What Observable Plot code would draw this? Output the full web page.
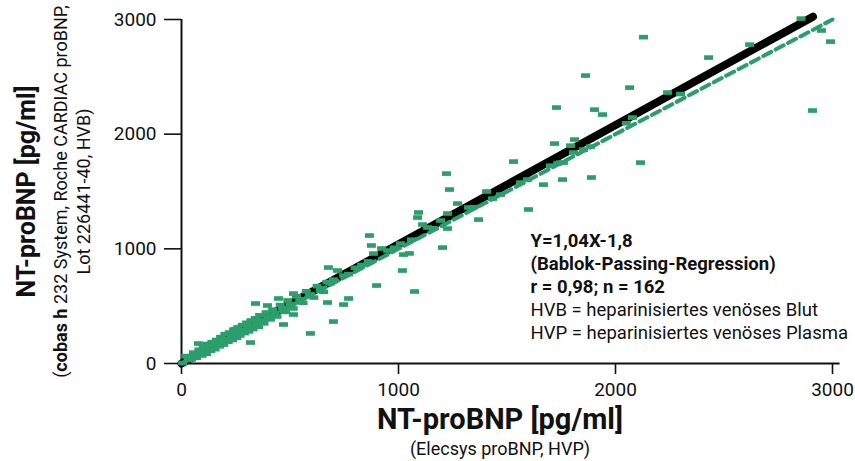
<!DOCTYPE html>
<html>
<head>
<meta charset="utf-8">
<script src="https://cdn.jsdelivr.net/npm/d3@7"></script>
<script src="https://cdn.jsdelivr.net/npm/@observablehq/plot@0.6"></script>
<style>
  html, body { margin: 0; padding: 0; background: #fff; }
  #chart { width: 855px; height: 461px; }
</style>
</head>
<body>
<div id="chart"></div>
<script>
// Elecsys proBNP (HVP) values, x axis
const elecsys = [
  2129, 2855, 2949, 2991, 2908, 2618, 2429, 1862, 2065, 1728,
  1903, 1940, 2240, 2078, 1719, 1811, 1793, 1806, 1747, 2115,
  1889, 1756, 1530, 1668, 1221, 1235, 1406, 1272, 1226, 1369,
  1599, 1226, 1092, 1088, 1111, 866, 875, 922, 1023, 1050,
  1203, 677, 1018, 899, 1074, 770, 673, 747, 341, 396,
  447, 516, 470, 318, 78, 594, 516, 700, 719, 747,
  770, 700, 885, 950, 1009, 1134, 1194, 1323, 1345, 1433,
  1470, 1562, 1594, 1733, 1760, 1853, 1885, 1700, 2050, 2300,
  1160, 1060, 980, 830, 860, 800,
  5, 20, 30, 45, 55, 60, 70, 80, 85, 95,
  100, 110, 115, 120, 130, 135, 140, 150, 155, 160,
  170, 175, 180, 190, 195, 200, 210, 215, 220, 230,
  235, 240, 250, 255, 260, 265, 270, 280, 285, 290,
  300, 305, 310, 320, 325, 330, 340, 350, 355, 360,
  370, 380, 390, 400, 410, 420, 430, 440, 455, 465,
  480, 490, 500, 515, 530, 545, 560, 575, 590, 610,
  625, 640, 655, 670, 685, 250
];
// cobas h 232 values (HVB), y axis
const cobas = [
  2846, 3008, 2904, 2807, 2206, 2781, 2668, 2511, 2406, 2232,
  2214, 2171, 2363, 2145, 1918, 1953, 1900, 1840, 1752, 1752,
  1622, 1604, 1761, 1560, 1656, 1517, 1500, 1395, 1308, 1255,
  1343, 1177, 1317, 1273, 1212, 1116, 1029, 1003, 950, 960,
  1011, 837, 811, 680, 628, 567, 532, 514, 523, 506,
  567, 610, 340, 183, 174, 262, 427, 366, 811, 767,
  780, 732, 959, 985, 1046, 1186, 1247, 1360, 1362, 1438,
  1473, 1578, 1604, 1744, 1752, 1866, 1892, 1725, 2095, 2350,
  1180, 1080, 1010, 860, 890, 835,
  5, 65, 30, 35, 95, 60, 50, 120, 85, 70,
  145, 115, 85, 170, 135, 110, 185, 155, 125, 205,
  175, 150, 230, 195, 165, 255, 215, 190, 270, 235,
  205, 295, 255, 225, 315, 275, 245, 335, 290, 265,
  355, 315, 280, 375, 335, 300, 395, 360, 320, 420,
  380, 350, 445, 410, 385, 470, 440, 410, 510, 480,
  450, 550, 515, 480, 585, 560, 530, 630, 600, 575,
  675, 655, 625, 710, 700, 300
];
// Regression line end points (Y = 1,04X - 1,8) and identity line
const regX = [0, 2910];
const regY = [0, 3025];
const idX = [0, 3000];
const idY = [0, 3000];
const ticks = [0, 1000, 2000, 3000];

const yTitle = "NT-proBNP [pg/ml]";
const yTitle2 = "(cobas h 232 System, Roche CARDIAC proBNP,";
const yTitle3 = "Lot 226441-40, HVB)";
const xTitle = "NT-proBNP [pg/ml]";
const xTitle2 = "(Elecsys proBNP, HVP)";
const noteBold = "Y=1,04X-1,8\n(Bablok-Passing-Regression)\nr = 0,98; n = 162";
const noteReg = "HVB = heparinisiertes venöses Blut\nHVP = heparinisiertes venöses Plasma";

const points = elecsys.map((x, i) => ({x, y: cobas[i]}));
const reg = regX.map((x, i) => ({x, y: regY[i]}));
const ident = idX.map((x, i) => ({x, y: idY[i]}));

const green = "#2b9e6b";
const rectSymbol = {
  draw(ctx) { ctx.rect(-4.5, -2.3, 9, 4.6); }
};

const chart = Plot.plot({
  width: 855,
  height: 461,
  marginLeft: 181,
  marginRight: 23,
  marginTop: 19,
  marginBottom: 98,
  style: {fontFamily: "Roboto, sans-serif", color: "#111", background: "#fff"},
  x: {domain: [0, 3000], ticks: ticks, tickFormat: d => String(d), label: null},
  y: {domain: [0, 3000], ticks: ticks, tickFormat: d => String(d), label: null},
  marks: [
    Plot.axisX({ticks, tickSize: 11, tickPadding: 8, fontSize: 19, strokeWidth: 1.6, label: null, tickFormat: d => String(d)}),
    Plot.axisY({ticks, tickSize: 17, tickPadding: 8, fontSize: 19, strokeWidth: 1.6, label: null, tickFormat: d => String(d)}),
    Plot.ruleX([0], {stroke: "#111", strokeWidth: 2}),
    Plot.ruleY([0], {x1: 0, x2: 3035, stroke: "#111", strokeWidth: 2}),
    Plot.line(reg, {x: "x", y: "y", stroke: "#000", strokeWidth: 8, strokeLinecap: "round"}),
    Plot.line(ident, {x: "x", y: "y", stroke: green, strokeWidth: 4, strokeDasharray: "9,5"}),
    Plot.dot(points, {x: "x", y: "y", symbol: rectSymbol, fill: green, stroke: null, r: 3}),
    Plot.text([yTitle], {frameAnchor: "left", rotate: -90, textAnchor: "middle", lineAnchor: "middle", dx: -155, fontSize: 25, fontWeight: "bold", fill: "#111"}),
    Plot.text([yTitle2], {frameAnchor: "left", rotate: -90, textAnchor: "middle", lineAnchor: "middle", dx: -120, fontSize: 18, fill: "#111"}),
    Plot.text([yTitle3], {frameAnchor: "left", rotate: -90, textAnchor: "middle", lineAnchor: "middle", dx: -97, fontSize: 18, fill: "#111"}),
    Plot.text([xTitle], {frameAnchor: "bottom", textAnchor: "middle", lineAnchor: "middle", dx: -7, dy: 56, fontSize: 29, fontWeight: "bold", fill: "#111"}),
    Plot.text([xTitle2], {frameAnchor: "bottom", textAnchor: "middle", lineAnchor: "middle", dx: -7, dy: 86, fontSize: 18, fill: "#111"}),
    Plot.text([noteBold], {frameAnchor: "top-left", textAnchor: "start", lineAnchor: "middle", dx: 349, dy: 243, lineHeight: 1.25, fontSize: 18.5, fontWeight: "bold", fill: "#111"}),
    Plot.text([noteReg], {frameAnchor: "top-left", textAnchor: "start", lineAnchor: "middle", dx: 349, dy: 301, lineHeight: 1.25, fontSize: 18.5, fill: "#111"})
  ]
});

// make "cobas h" bold in the second y title line
d3.select(chart).selectAll("text").each(function() {
  const t = d3.select(this);
  if (this.textContent === yTitle2) {
    t.text(null);
    t.append("tspan").text("(");
    t.append("tspan").attr("font-weight", "bold").text("cobas h");
    t.append("tspan").text(" 232 System, Roche CARDIAC proBNP,");
  }
});

document.getElementById("chart").appendChild(chart);
</script>
</body>
</html>
